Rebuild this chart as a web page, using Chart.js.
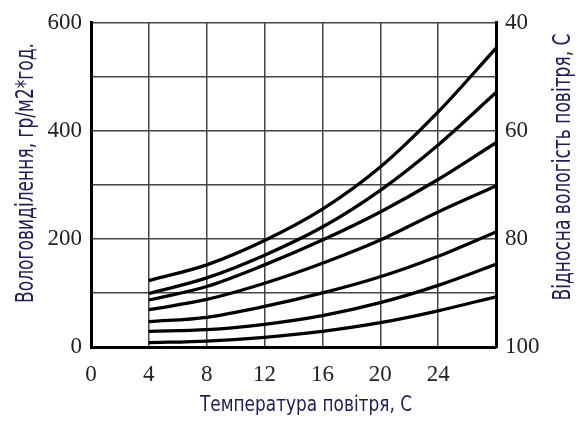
<!DOCTYPE html>
<html><head><meta charset="utf-8">
<script src="https://cdn.jsdelivr.net/npm/chart.js@4/dist/chart.umd.min.js"></script>
<style>html,body{margin:0;padding:0;background:#fff}#wrap{width:582px;height:421px;position:relative}</style>
</head><body><div id="wrap"><canvas id="c" width="582" height="421"></canvas></div>
<script>
// Air temperature, °C
const temperatures = [4, 8, 12, 16, 20, 24, 28];
// Moisture release, g/m2*h, one curve per relative humidity level (top = 40% ... bottom = ~100%)
const curve1 = [123, 152, 197, 255, 333, 435, 553];
const curve2 = [99, 128, 170, 222, 290, 374, 471];
const curve3 = [87, 112, 152, 198, 250, 310, 378];
const curve4 = [69, 88, 118, 155, 198, 250, 298];
const curve5 = [47, 55, 75, 100, 130, 168, 213];
const curve6 = [29, 32, 42, 58, 82, 114, 153];
const curve7 = [8, 11, 18, 29, 45, 67, 93];
const xTickLabels = [0, 4, 8, 12, 16, 20, 24];
const leftTickLabels = [0, 200, 400, 600];
const rightTickLabels = [40, 60, 80, 100];
const xTitle = 'Температура повітря, С';
const leftTitle = 'Вологовиділення, гр/м2*год.';
const rightTitle = 'Відносна вологість повітря, С';

const curves = [curve1, curve2, curve3, curve4, curve5, curve6, curve7];
const datasets = curves.map((c, i) => ({
  label: 'c' + (i + 1),
  data: temperatures.map((t, j) => ({x: t, y: c[j]})),
  borderColor: '#000',
  borderWidth: 3.3,
  pointRadius: 0,
  fill: false,
  cubicInterpolationMode: 'monotone',
  yAxisID: 'y'
}));

const GRID = '#444';
const TEXT = '#1e1e50';
const tickFont = {family: "'Liberation Serif', 'Times New Roman', serif", size: 23};

const titlePlugin = {
  id: 'titles',
  afterDraw(chart) {
    const ctx = chart.ctx;
    function draw(text, px, py, size, len, rot) {
      ctx.save();
      ctx.font = size + "px 'DejaVu Sans', sans-serif";
      const w = ctx.measureText(text).width;
      ctx.translate(px, py);
      if (rot) ctx.rotate(-Math.PI / 2);
      ctx.scale(len / w, 1);
      ctx.fillStyle = TEXT;
      ctx.textAlign = 'center';
      ctx.textBaseline = 'alphabetic';
      ctx.fillText(text, 0, 0);
      ctx.restore();
    }
    draw(xTitle, 306, 411, 21, 212, false);
    draw(leftTitle, 33, 173, 24, 260, true);
    draw(rightTitle, 570, 167, 24, 267, true);
  }
};

new Chart(document.getElementById('c'), {
  type: 'line',
  data: {datasets},
  plugins: [titlePlugin],
  options: {
    responsive: false,
    animation: false,
    devicePixelRatio: 1,
    layout: {padding: {top: 16, left: 0, right: 0, bottom: 0}},
    plugins: {legend: {display: false}, tooltip: {enabled: false}},
    scales: {
      x: {
        type: 'linear', min: 0, max: 28,
        ticks: {stepSize: 4, color: '#222', font: tickFont, padding: 14,
          callback: v => xTickLabels.includes(v) ? String(v) : ''},
        grid: {drawTicks: false, lineWidth: 1.5,
          color: c => (c.tick && (c.tick.value === 0 || c.tick.value === 28)) ? 'rgba(0,0,0,0)' : GRID},
        border: {display: true, width: 3, color: '#000'},
        afterFit: s => { s.height = 74; }
      },
      y: {
        position: 'left', min: 0, max: 600,
        ticks: {stepSize: 100, color: '#222', font: tickFont, padding: 9,
          callback: v => leftTickLabels.includes(v) ? String(v) : ''},
        grid: {drawTicks: false, lineWidth: 1.5,
          color: c => (c.tick && c.tick.value === 0) ? 'rgba(0,0,0,0)' : GRID},
        border: {display: true, width: 3, color: '#000'},
        afterFit: s => { s.width = 91; }
      },
      y2: {
        position: 'right', min: 40, max: 100, reverse: true,
        ticks: {stepSize: 10, color: '#222', font: tickFont, padding: 9,
          callback: v => rightTickLabels.includes(v) ? String(v) : ''},
        grid: {drawOnChartArea: false, drawTicks: false},
        border: {display: true, width: 3, color: '#000'},
        afterFit: s => { s.width = 86; }
      }
    }
  }
});
</script>
</body></html>
